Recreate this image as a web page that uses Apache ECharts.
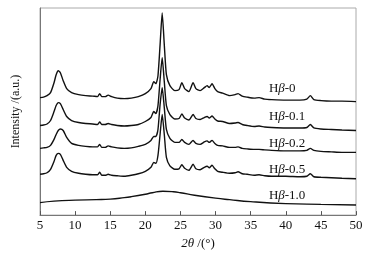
<!DOCTYPE html>
<html>
<head>
<meta charset="utf-8">
<script src="https://cdn.jsdelivr.net/npm/echarts@6/dist/echarts.min.js"></script>
<style>html,body{margin:0;padding:0;background:#fff}#c{width:376px;height:255px}</style>
</head>
<body>
<div id="c"></div>
<script>
// 2θ grid (degrees)
const twoTheta = [5, 5.5, 6, 6.5, 7, 7.3, 7.6, 7.9, 8.3, 8.8, 9.5, 10.5, 11.5, 12.5, 13.2, 13.5, 13.8, 14.3, 14.7, 15.2, 16, 17, 18, 19, 20, 20.8, 21.2, 21.5, 21.8, 22.1, 22.4, 22.7, 23, 23.5, 24.2, 24.8, 25.2, 25.6, 26.2, 26.8, 27.2, 27.8, 28.4, 28.8, 29.1, 29.5, 29.9, 30.3, 31, 32, 32.8, 33.2, 33.8, 34.5, 35.5, 36.2, 37, 38, 40, 42, 43, 43.5, 44, 45, 46.5, 48, 50];
// intensities (a.u., stacked offsets as in the figure)
const hb0 = [118, 118.5, 120, 123, 133, 141, 145, 143, 135, 127, 123, 121, 120, 119.5, 119, 122, 119, 119, 120.5, 119, 117.5, 117, 117.5, 119, 122, 127, 134, 132, 140, 171, 203, 171, 141, 130, 125, 126, 133, 127, 124, 133, 127, 125, 128, 130, 128, 132, 127, 124, 122.5, 120, 121, 122, 119.5, 118.5, 117.5, 118, 116.5, 116, 115.5, 115.5, 116.5, 120, 116, 115, 114.5, 114.5, 114];
const hb01 = [90, 90.5, 91.5, 95, 104, 110, 113, 112, 106, 99, 95, 93, 92, 91.5, 91, 93.5, 91, 91, 92, 91, 90, 89.5, 90, 91, 94, 98, 104, 102, 110, 136, 158, 134, 110, 101, 96.5, 97, 101.5, 97.5, 95.5, 101, 97, 96, 98, 99, 97.5, 99.5, 96.5, 94.5, 94, 92, 92.5, 93, 91, 90, 89, 89.5, 88.5, 88, 87.5, 87.5, 88, 91, 87.5, 86.5, 86, 85.5, 85];
const hb02 = [67, 67.5, 68, 70, 76, 81, 85, 86.5, 85, 78, 72, 70, 69, 68.5, 68.5, 71, 68, 68, 69.5, 68.5, 67.5, 67, 67.5, 69, 71, 75, 79, 79, 86, 111, 128, 108, 86, 77, 73, 73, 76, 73, 71, 75, 72, 71, 73.5, 74.5, 73, 75, 72, 70, 69.5, 68, 68, 68.5, 67, 66.5, 66, 66, 65.5, 65, 64.5, 64.5, 65, 67, 65, 64, 63.5, 63, 63];
const hb05 = [41, 41.5, 42.5, 46, 54, 60, 62, 61, 55, 48, 44, 42, 41, 40.5, 40.5, 43, 40, 40, 41, 40, 39.5, 39, 40, 41.5, 44, 48, 53, 52, 60, 81, 101, 81, 58, 49.5, 46, 46.5, 50.5, 47, 45, 51, 46.5, 45.5, 48, 49, 47.5, 50, 46.5, 44, 43, 42, 42.5, 43.5, 41.5, 41, 40, 40.5, 39.5, 39, 39, 38.5, 39, 41.5, 38.5, 38, 37.5, 37, 36.5];
const twoTheta10 = [5, 7, 10, 13, 15, 17, 18, 20, 21, 22.5, 24, 25, 27, 30, 32, 35, 40, 45, 50];
const hb10 = [12.5, 14, 15, 15.5, 16, 17.5, 18.5, 21, 22.5, 24, 23.5, 22.5, 20, 17, 15.5, 13.5, 11.5, 10.8, 10.2];
const labels = ['0', '0.1', '0.2', '0.5', '1.0'];
const xTicks = [5, 10, 15, 20, 25, 30, 35, 40, 45, 50];

const FONT = '"Liberation Serif", "DejaVu Serif", serif';
const zip = (xs, ys) => xs.map((x, i) => [x, ys[i]]);
const seriesData = [zip(twoTheta, hb0), zip(twoTheta, hb01), zip(twoTheta, hb02), zip(twoTheta, hb05), zip(twoTheta10, hb10)];
const labelAt = [[37.6, 127], [37.6, 99], [37.6, 72], [37.6, 46], [37.6, 19.5]];

const chart = echarts.init(document.getElementById('c'), null, {renderer: 'canvas'});
const series = seriesData.map((d, i) => ({
  type: 'line', data: d, showSymbol: false, smooth: i === 4 ? true : 0.2,
  lineStyle: {color: '#111', width: 1.4}, animation: false
}));

chart.setOption({
  animation: false,
  grid: {left: 40, right: 20, top: 8, bottom: 39, show: true, borderColor: '#aaa', borderWidth: 1},
  xAxis: {
    type: 'value', min: 5, max: 50, interval: 5,
    axisLine: {show: true, lineStyle: {color: '#777', width: 1}},
    axisTick: {inside: true, length: 4, lineStyle: {color: '#555'}},
    splitLine: {show: false},
    axisLabel: {margin: 4, fontFamily: FONT, fontSize: 13, color: '#111',
      formatter: v => xTicks.includes(v) ? String(v) : ''},
    name: '{i|2θ} /(°)', nameLocation: 'middle', nameGap: 13,
    nameTextStyle: {fontFamily: FONT, fontSize: 13, color: '#111',
      rich: {i: {fontFamily: FONT, fontSize: 13, fontStyle: 'italic', color: '#111'}}}
  },
  yAxis: {
    type: 'value', min: 0, max: 208,
    axisLine: {show: true, lineStyle: {color: '#777', width: 1}},
    axisTick: {show: false}, axisLabel: {show: false}, splitLine: {show: false},
    name: 'Intensity /(a.u.)', nameLocation: 'middle', nameGap: 18,
    nameTextStyle: {fontFamily: FONT, fontSize: 12, color: '#111'}
  },
  series: series
});

const rich = {
  n: {fontFamily: FONT, fontSize: 13, color: '#111'},
  b: {fontFamily: FONT, fontSize: 13, fontStyle: 'italic', color: '#111'}
};
chart.setOption({
  graphic: labelAt.map((c, i) => {
    const p = chart.convertToPixel({gridIndex: 0}, c);
    return {
      type: 'text', x: p[0], y: p[1], silent: true,
      style: {text: '{n|H}{b|β}{n|-' + labels[i] + '}', rich: rich,
        verticalAlign: 'middle', align: 'left', fill: '#111'}
    };
  })
});
</script>
</body>
</html>
